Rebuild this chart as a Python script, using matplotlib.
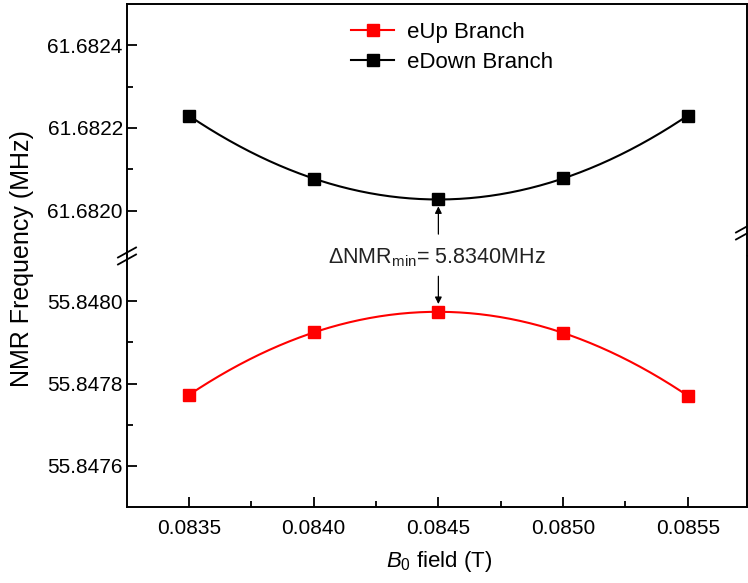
import numpy as np
import matplotlib
matplotlib.use("Agg")
import matplotlib.pyplot as plt
from matplotlib.ticker import FormatStrFormatter

plt.rcParams['font.family'] = ['Liberation Sans', 'DejaVu Sans']
plt.rcParams['mathtext.fontset'] = 'custom'
plt.rcParams['mathtext.rm'] = 'Liberation Sans'
plt.rcParams['mathtext.it'] = 'Liberation Sans:italic'

# data
B0 = [0.0835, 0.0840, 0.0845, 0.0850, 0.0855]
eUp = [55.847772, 55.847925, 55.847973, 55.847924, 55.847770]
eDown = [61.682230, 61.682077, 61.682027, 61.682078, 61.682230]
xticks = [0.0835, 0.0840, 0.0845, 0.0850, 0.0855]
up_ticks = [61.6820, 61.6822, 61.6824]
low_ticks = [55.8476, 55.8478, 55.8480]

W, H = 748, 583
fig = plt.figure(figsize=(W / 100, H / 100), dpi=100)
L, R = 127 / W, 747 / W
ybrk = 1 - 256 / H
ax_top = fig.add_axes([L, ybrk, R - L, (1 - 4 / H) - ybrk])
ax_bot = fig.add_axes([L, 1 - 507 / H, R - L, ybrk - (1 - 507 / H)])

xs = np.linspace(B0[0], B0[-1], 200)
fit_down = np.polyval(np.polyfit(B0, eDown, 2), xs)
fit_up = np.polyval(np.polyfit(B0, eUp, 2), xs)

ax_top.plot(xs, fit_down, color='black', lw=1.5)
ax_top.plot(B0, eDown, 's', color='black', ms=9)
ax_bot.plot(xs, fit_up, color='red', lw=1.5)
ax_bot.plot(B0, eUp, 's', color='red', ms=9)

ax_top.set_ylim(61.68189, 61.68250)
ax_bot.set_ylim(55.84750, 55.84811)
for ax in (ax_top, ax_bot):
    ax.set_xlim(0.083252, 0.085737)
    for s in ax.spines.values():
        s.set_linewidth(1.4)
    ax.tick_params(direction='in', which='both', width=1.3, labelsize=15,
                   top=False, right=False, pad=3)
    ax.tick_params(which='major', length=7)
    ax.tick_params(which='minor', length=4)
    ax.yaxis.set_major_formatter(FormatStrFormatter('%.4f'))

ax_top.spines['bottom'].set_visible(False)
ax_bot.spines['top'].set_visible(False)
ax_top.set_yticks(up_ticks)
ax_top.set_yticks([61.6821, 61.6823], minor=True)
ax_bot.set_yticks(low_ticks)
ax_bot.set_yticks([55.8477, 55.8479], minor=True)
ax_top.set_xticks([])
ax_top.set_xticks([], minor=True)
ax_bot.set_xticks(xticks)
ax_bot.set_xticks([0.08375, 0.08425, 0.08475, 0.08525], minor=True)
ax_bot.xaxis.set_major_formatter(FormatStrFormatter('%.4f'))
ax_bot.tick_params(axis='x', pad=9)

# break marks
def brk(xp, yp):
    for dy in (-3.5, 3.5):
        x0, x1 = (xp - 9) / W, (xp + 9) / W
        y0, y1 = 1 - (yp + dy + 5) / H, 1 - (yp + dy - 5) / H
        fig.add_artist(plt.Line2D([x0, x1], [y0, y1], color='black', lw=1.3))

brk(127, 256)
brk(745, 231)

# annotation
ax_top.annotate('', xy=(B0[2], eDown[2]), xytext=(0, -25), textcoords='offset points',
                arrowprops=dict(arrowstyle='-|>', color='black', lw=0.9, shrinkA=0, shrinkB=5,
                                mutation_scale=10))
ax_bot.annotate('', xy=(B0[2], eUp[2]), xytext=(0, 26), textcoords='offset points',
                arrowprops=dict(arrowstyle='-|>', color='black', lw=0.9, shrinkA=0, shrinkB=6,
                                mutation_scale=10))
fig.text(437 / W, 1 - 258 / H, r'ΔNMR$_{\mathrm{min}}$= 5.8340MHz', ha='center', va='center',
         fontsize=15.5, color='#222222')

# legend
h1, = ax_bot.plot([], [], '-s', color='red', ms=9, lw=1.5)
h2, = ax_bot.plot([], [], '-s', color='black', ms=9, lw=1.5)
fig.legend([h1, h2], ['eUp Branch', 'eDown Branch'], loc='center',
           bbox_to_anchor=(452 / W, 1 - 47.5 / H), frameon=False, fontsize=16,
           handlelength=1.95, handletextpad=0.55, labelspacing=0.42)

fig.text(439 / W, 1 - 562 / H, r'$B_0$ field (T)', ha='center', va='center', fontsize=16)
fig.text(22 / W, 1 - 259 / H, 'NMR Frequency (MHz)', rotation=90, ha='center', va='center',
         fontsize=18)

fig.savefig('out.png', dpi=100)
